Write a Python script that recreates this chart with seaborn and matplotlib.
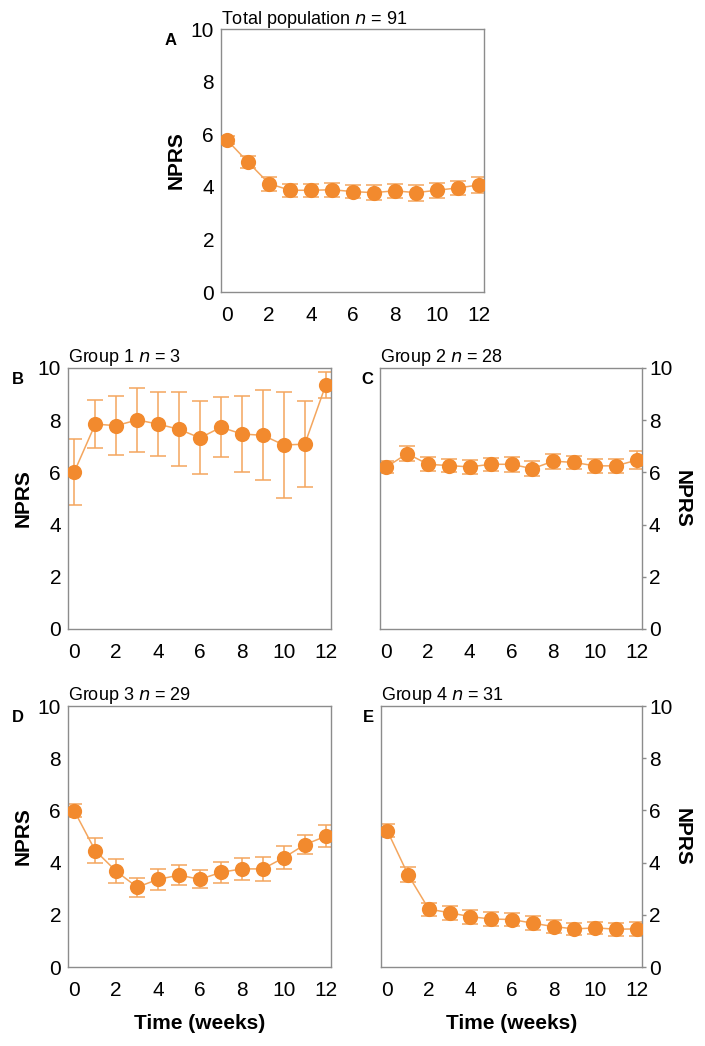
import numpy as np
import pandas as pd
import matplotlib
matplotlib.use('Agg')
import matplotlib.pyplot as plt
import seaborn as sns

# Weeks and mean NPRS (+/- error)
weeks = list(range(13))

total_mean = [5.77, 4.93, 4.12, 3.87, 3.87, 3.89, 3.82, 3.78, 3.85, 3.78, 3.87, 3.96, 4.07]
total_err = [0.15, 0.23, 0.26, 0.25, 0.25, 0.27, 0.26, 0.28, 0.27, 0.30, 0.28, 0.28, 0.32]

g1_mean = [6.02, 7.85, 7.79, 8.01, 7.85, 7.65, 7.32, 7.73, 7.47, 7.42, 7.05, 7.08, 9.35]
g1_err = [1.27, 0.93, 1.12, 1.23, 1.24, 1.42, 1.40, 1.16, 1.46, 1.72, 2.03, 1.65, 0.50]

g2_mean = [6.20, 6.72, 6.31, 6.26, 6.21, 6.31, 6.31, 6.14, 6.43, 6.38, 6.25, 6.25, 6.47]
g2_err = [0.24, 0.29, 0.27, 0.25, 0.26, 0.25, 0.28, 0.29, 0.29, 0.26, 0.27, 0.28, 0.33]

g3_mean = [5.98, 4.46, 3.67, 3.06, 3.36, 3.52, 3.36, 3.63, 3.76, 3.76, 4.19, 4.69, 5.01]
g3_err = [0.25, 0.48, 0.46, 0.37, 0.39, 0.38, 0.35, 0.41, 0.42, 0.45, 0.43, 0.35, 0.43]

g4_mean = [5.23, 3.54, 2.22, 2.08, 1.93, 1.84, 1.82, 1.68, 1.55, 1.46, 1.50, 1.45, 1.46]
g4_err = [0.26, 0.29, 0.25, 0.26, 0.27, 0.25, 0.26, 0.26, 0.24, 0.24, 0.24, 0.25, 0.26]

panels = [
    # letter, title, group size, mean, err, axes rect, y axis side, show xlabel
    ('A', 'Total population', '91', total_mean, total_err, [0.3135, 0.7208, 0.373, 0.2514], 'left', False),
    ('B', 'Group 1', '3', g1_mean, g1_err, [0.0965, 0.3987, 0.373, 0.2495], 'left', False),
    ('C', 'Group 2', '28', g2_mean, g2_err, [0.539, 0.3987, 0.3716, 0.2495], 'right', False),
    ('D', 'Group 3', '29', g3_mean, g3_err, [0.0965, 0.0755, 0.373, 0.2495], 'left', True),
    ('E', 'Group 4', '31', g4_mean, g4_err, [0.5404, 0.0755, 0.3702, 0.2495], 'right', True),
]

sns.set_style('white')
plt.rcParams['font.family'] = ['Liberation Sans', 'DejaVu Sans']
plt.rcParams['text.color'] = 'black'
plt.rcParams['axes.labelcolor'] = 'black'
plt.rcParams['axes.titlecolor'] = 'black'

MARKER = '#F28A2E'
LIGHT = '#F4A65E'
SPINE = '#8C8C8C'

fig = plt.figure(figsize=(7.05, 10.46), dpi=100)

for letter, title, n, mean, err, rect, side, show_x in panels:
    ax = fig.add_axes(rect)
    df = pd.DataFrame({'week': weeks, 'nprs': mean, 'err': err})

    ax.errorbar(df['week'], df['nprs'], yerr=df['err'], fmt='none',
                ecolor=LIGHT, elinewidth=1.1, capsize=5.5, capthick=1.1, zorder=2)
    sns.lineplot(data=df, x='week', y='nprs', ax=ax, color=LIGHT, linewidth=1.1, zorder=3)
    sns.scatterplot(data=df, x='week', y='nprs', ax=ax, color=MARKER, s=120,
                    edgecolor=MARKER, linewidth=0, zorder=4)

    ax.set_xlim(-0.3, 12.25)
    ax.set_ylim(0, 10)
    ax.set_xticks(range(0, 13, 2))
    ax.set_xticks(range(1, 13, 2), minor=True)
    ax.set_yticks(range(0, 11, 2))
    for sp in ax.spines.values():
        sp.set_color(SPINE)
        sp.set_linewidth(1.0)
    ax.tick_params(axis='both', which='both', direction='out', color=SPINE,
                   labelsize=15, labelcolor='black', width=1.0)
    ax.tick_params(axis='x', which='major', length=4, pad=6)
    ax.tick_params(axis='x', which='minor', length=3)
    ax.tick_params(axis='y', length=3, pad=2)

    if side == 'right':
        ax.yaxis.tick_right()
        ax.yaxis.set_label_position('right')
        ax.set_ylabel('NPRS', fontsize=15, fontweight='bold', rotation=270, labelpad=14)
    else:
        ax.set_ylabel('NPRS', fontsize=15, fontweight='bold', labelpad=4)

    if show_x:
        ax.set_xlabel('Time (weeks)', fontsize=15, fontweight='bold', labelpad=10)
    else:
        ax.set_xlabel('')

    ax.set_title(f'{title} $n$ = {n}', loc='left', fontsize=13, pad=4)

    # panel letter
    x_off = -0.215 if side == 'left' else -0.07
    ax.text(x_off, 0.985, letter, transform=ax.transAxes, fontsize=12,
            fontweight='bold', ha='left', va='top')

fig.savefig('out.png', dpi=100)
